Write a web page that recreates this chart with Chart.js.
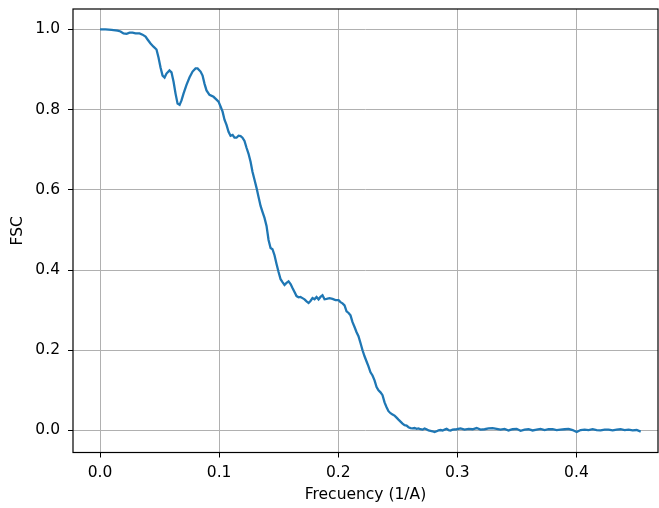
<!DOCTYPE html>
<html>
<head>
<meta charset="utf-8">
<script src="https://cdn.jsdelivr.net/npm/chart.js@4.4.1/dist/chart.umd.min.js"></script>
<style>
  html, body { margin: 0; padding: 0; background: #fff; }
  canvas { display: block; }
</style>
</head>
<body>
<canvas id="fscChart" width="659" height="508"></canvas>
<script>
// spatial frequency (1/A)
const freq = [
    0.0000, 0.0046, 0.0097, 0.0147, 0.0172, 0.0197, 0.0223, 0.0248, 0.0273, 0.0298,
    0.0332, 0.0357, 0.0382, 0.0399, 0.0424, 0.0449, 0.0474, 0.0491, 0.0508, 0.0525,
    0.0542, 0.0558, 0.0583, 0.0600, 0.0617, 0.0634, 0.0651, 0.0668, 0.0684, 0.0701,
    0.0726, 0.0751, 0.0777, 0.0802, 0.0819, 0.0844, 0.0861, 0.0877, 0.0894, 0.0919,
    0.0953, 0.0978, 0.0995, 0.1012, 0.1029, 0.1045, 0.1062, 0.1079, 0.1096, 0.1113,
    0.1129, 0.1146, 0.1163, 0.1180, 0.1196, 0.1213, 0.1230, 0.1247, 0.1264, 0.1280,
    0.1297, 0.1314, 0.1331, 0.1348, 0.1364, 0.1381, 0.1398, 0.1415, 0.1432, 0.1448,
    0.1465, 0.1482, 0.1499, 0.1516, 0.1532, 0.1549, 0.1566, 0.1583, 0.1600, 0.1616,
    0.1633, 0.1650, 0.1667, 0.1683, 0.1700, 0.1717, 0.1734, 0.1751, 0.1767, 0.1784,
    0.1801, 0.1818, 0.1835, 0.1851, 0.1868, 0.1885, 0.1902, 0.1927, 0.1952, 0.1977,
    0.2003, 0.2019, 0.2036, 0.2053, 0.2070, 0.2087, 0.2103, 0.2120, 0.2137, 0.2154,
    0.2170, 0.2187, 0.2204, 0.2221, 0.2238, 0.2254, 0.2271, 0.2288, 0.2305, 0.2322,
    0.2338, 0.2355, 0.2372, 0.2389, 0.2406, 0.2422, 0.2439, 0.2456, 0.2473, 0.2490,
    0.2506, 0.2523, 0.2540, 0.2557, 0.2574, 0.2590, 0.2607, 0.2624, 0.2641, 0.2658,
    0.2674, 0.2691, 0.2708, 0.2725, 0.2741, 0.2758, 0.2775, 0.2792, 0.2809, 0.2826,
    0.2842, 0.2859, 0.2876, 0.2893, 0.2910, 0.2926, 0.2943, 0.2960, 0.2994, 0.3027,
    0.3061, 0.3094, 0.3128, 0.3162, 0.3195, 0.3229, 0.3262, 0.3296, 0.3330, 0.3363,
    0.3397, 0.3430, 0.3464, 0.3498, 0.3531, 0.3565, 0.3598, 0.3632, 0.3666, 0.3699,
    0.3733, 0.3766, 0.3800, 0.3834, 0.3867, 0.3901, 0.3934, 0.3968, 0.4002, 0.4035,
    0.4069, 0.4102, 0.4136, 0.4170, 0.4203, 0.4237, 0.4270, 0.4304, 0.4338, 0.4371,
    0.4405, 0.4438, 0.4472, 0.4506, 0.4540
];

// fourier shell correlation
const fsc = [
    1.000, 1.000, 0.999, 0.997, 0.995, 0.990, 0.989, 0.992, 0.992, 0.990,
    0.990, 0.987, 0.982, 0.975, 0.965, 0.957, 0.950, 0.930, 0.905, 0.885,
    0.880, 0.890, 0.898, 0.893, 0.870, 0.840, 0.815, 0.812, 0.823, 0.840,
    0.862, 0.880, 0.895, 0.903, 0.903, 0.895, 0.885, 0.865, 0.848, 0.837,
    0.832, 0.825, 0.820, 0.808, 0.795, 0.775, 0.762, 0.745, 0.735, 0.737,
    0.730, 0.730, 0.735, 0.734, 0.730, 0.722, 0.705, 0.690, 0.670, 0.645,
    0.625, 0.605, 0.582, 0.560, 0.545, 0.530, 0.510, 0.475, 0.455, 0.452,
    0.437, 0.415, 0.395, 0.377, 0.370, 0.363, 0.368, 0.372, 0.365, 0.355,
    0.345, 0.335, 0.332, 0.333, 0.330, 0.327, 0.322, 0.318, 0.323, 0.330,
    0.327, 0.333, 0.327, 0.333, 0.337, 0.327, 0.328, 0.330, 0.328, 0.325,
    0.325, 0.320, 0.317, 0.312, 0.297, 0.293, 0.287, 0.270, 0.258, 0.245,
    0.235, 0.218, 0.200, 0.185, 0.172, 0.160, 0.145, 0.137, 0.125, 0.108,
    0.100, 0.095, 0.088, 0.070, 0.058, 0.048, 0.043, 0.040, 0.037, 0.032,
    0.027, 0.022, 0.017, 0.013, 0.012, 0.008, 0.006, 0.005, 0.006, 0.004,
    0.005, 0.003, 0.002, 0.005, 0.003, 0.000, -0.001, -0.002, -0.004, -0.002,
    0.000, 0.001, 0.000, 0.002, 0.004, 0.001, 0.000, 0.002, 0.003, 0.005,
    0.002, 0.004, 0.003, 0.006, 0.002, 0.003, 0.005, 0.006, 0.004, 0.002,
    0.004, 0.000, 0.003, 0.004, -0.001, 0.002, 0.003, 0.000, 0.002, 0.004,
    0.001, 0.003, 0.003, 0.001, 0.002, 0.003, 0.004, 0.001, -0.004, 0.001,
    0.002, 0.001, 0.003, 0.001, 0.000, 0.002, 0.002, 0.000, 0.002, 0.003,
    0.001, 0.002, 0.000, 0.001, -0.003
];

const xTicks = [0.0, 0.1, 0.2, 0.3, 0.4];
const yTicks = [0.0, 0.2, 0.4, 0.6, 0.8, 1.0];

const FONT = "'DejaVu Sans', sans-serif";
const FONT_SIZE = 15.5;

// matplotlib style box around the plot area
const frame = {
    id: "frame",
    afterDraw(chart) {
        const { ctx, chartArea: a } = chart;
        ctx.save();
        ctx.strokeStyle = "#000";
        ctx.lineWidth = 1.2;
        ctx.strokeRect(a.left, a.top, a.right - a.left, a.bottom - a.top);
        ctx.restore();
    },
};

function fixedTicks(list) {
    return (scale) => {
        scale.ticks = list.map((v) => ({ value: v }));
    };
}

const points = freq.map((f, i) => ({ x: f, y: fsc[i] }));

new Chart(document.getElementById("fscChart"), {
    type: "line",
    data: {
        datasets: [
            {
                data: points,
                borderColor: "#1f77b4",
                borderWidth: 2.3,
                pointRadius: 0,
                tension: 0,
                fill: false,
            },
        ],
    },
    options: {
        responsive: false,
        animation: false,
        layout: { padding: { top: 9, right: 1, left: 0, bottom: 0 } },
        plugins: {
            legend: { display: false },
            tooltip: { enabled: false },
        },
        scales: {
            x: {
                type: "linear",
                min: -0.0227,
                max: 0.4685,
                afterBuildTicks: fixedTicks(xTicks),
                afterFit: (s) => {
                    s.height = 55.5;
                    s.paddingLeft = 0;
                    s.paddingRight = 0;
                },
                ticks: {
                    color: "#000",
                    padding: 6.5,
                    maxRotation: 0,
                    font: { family: FONT, size: FONT_SIZE },
                    callback: (v) => Number(v).toFixed(1),
                },
                grid: {
                    color: "#b0b0b0",
                    lineWidth: 1,
                    tickColor: "#000",
                    tickLength: 5,
                },
                border: { display: false },
                title: {
                    display: true,
                    text: "Frecuency (1/A)",
                    color: "#000",
                    font: { family: FONT, size: FONT_SIZE },
                    padding: { top: 0, bottom: 3.7 },
                },
            },
            y: {
                type: "linear",
                min: -0.055,
                max: 1.051,
                afterBuildTicks: fixedTicks(yTicks),
                afterFit: (s) => {
                    s.width = 73;
                    s.paddingTop = 0;
                    s.paddingBottom = 0;
                },
                ticks: {
                    color: "#000",
                    padding: 8,
                    font: { family: FONT, size: FONT_SIZE },
                    callback: (v) => Number(v).toFixed(1),
                },
                grid: {
                    color: "#b0b0b0",
                    lineWidth: 1,
                    tickColor: "#000",
                    tickLength: 5,
                },
                border: { display: false },
                title: {
                    display: true,
                    text: "FSC",
                    color: "#000",
                    font: { family: FONT, size: FONT_SIZE },
                    padding: { top: 9, bottom: 0 },
                },
            },
        },
    },
    plugins: [frame],
});
</script>
</body>
</html>
